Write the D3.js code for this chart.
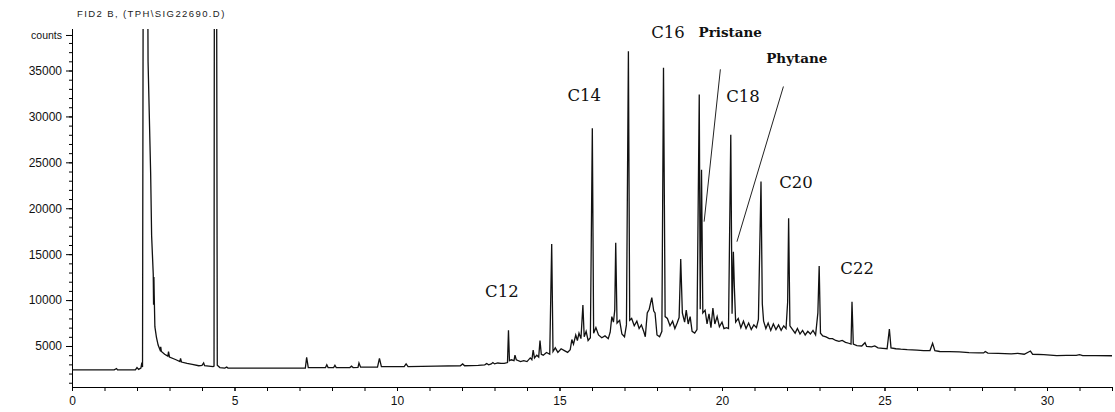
<!DOCTYPE html>
<html>
<head>
<meta charset="utf-8">
<script src="https://cdn.jsdelivr.net/npm/d3@7"></script>
<style>
  body { margin: 0; background: #fff; }
  svg { display: block; }
  .axis path, .axis line { stroke: #000; }
  .tick text { font-family: "Liberation Sans", Arial, sans-serif; font-size: 12px; fill: #111; }
</style>
</head>
<body>
<svg id="chart"></svg>
<script>
// chromatogram trace: [retention time (min), counts]
const signal = [
  [0.0, 2400], [1.3, 2400], [1.37, 2550], [1.4, 2400], [1.95, 2400], [2.0, 2650], [2.05, 2450],
  [2.12, 2600], [2.14, 3000], [2.17, 2700], [2.19, 45000], [2.33, 45000], [2.34, 36000],
  [2.42, 23800], [2.45, 17000], [2.5, 12800], [2.51, 9500], [2.52, 12500], [2.53, 10500],
  [2.55, 7100], [2.6, 5900], [2.65, 5100], [2.71, 4560], [2.73, 4900], [2.75, 4400], [2.85, 4100],
  [2.95, 3900], [2.97, 4400], [3.0, 3800], [3.2, 3500], [3.32, 3300], [3.34, 3650], [3.37, 3250],
  [3.54, 3100], [3.7, 3000], [3.9, 2850], [4.0, 2900], [4.05, 3150], [4.08, 2850], [4.34, 2750],
  [4.37, 2800], [4.38, 45000], [4.45, 45000], [4.47, 2900], [4.55, 2650], [4.7, 2600], [4.76, 2700],
  [4.8, 2600], [7.18, 2600], [7.22, 3770], [7.27, 2650], [7.8, 2650], [7.84, 2950], [7.88, 2650],
  [8.05, 2650], [8.09, 2900], [8.13, 2650], [8.55, 2650], [8.6, 2800], [8.65, 2650], [8.8, 2680],
  [8.83, 3150], [8.88, 2700], [9.4, 2700], [9.46, 3650], [9.52, 2750], [10.22, 2750], [10.28, 3050],
  [10.34, 2750], [11.2, 2800], [11.95, 2850], [12.02, 3050], [12.08, 2850], [12.5, 2900],
  [12.7, 2950], [12.76, 3100], [12.82, 2950], [12.9, 3050], [12.95, 3200], [13.0, 3050],
  [13.1, 3150], [13.2, 3100], [13.3, 3100], [13.4, 3200], [13.43, 6700], [13.46, 3400],
  [13.52, 3500], [13.6, 3400], [13.63, 4000], [13.67, 3500], [13.8, 3300], [13.9, 3400],
  [14.0, 3300], [14.1, 3700], [14.15, 3500], [14.19, 4560], [14.23, 3700], [14.3, 4000],
  [14.36, 3800], [14.4, 5580], [14.44, 4100], [14.5, 4000], [14.6, 4300], [14.7, 4100],
  [14.76, 16100], [14.8, 4400], [14.87, 4800], [14.95, 4300], [15.05, 4700], [15.15, 4500],
  [15.25, 4300], [15.33, 4600], [15.38, 5700], [15.43, 5200], [15.5, 6200], [15.55, 5600],
  [15.6, 6400], [15.66, 5800], [15.72, 9460], [15.76, 6000], [15.82, 6600], [15.88, 5600],
  [15.95, 5900], [16.01, 28700], [16.05, 6400], [16.12, 7000], [16.2, 6200], [16.3, 5900],
  [16.4, 6100], [16.5, 5800], [16.56, 6500], [16.61, 8200], [16.66, 7600], [16.7, 8900],
  [16.73, 16250], [16.77, 7500], [16.85, 7800], [16.92, 6300], [17.0, 6000], [17.06, 7300],
  [17.12, 37100], [17.16, 7800], [17.22, 8000], [17.3, 7200], [17.38, 7700], [17.45, 6900],
  [17.52, 7300], [17.6, 6500], [17.64, 6000], [17.7, 8600], [17.76, 9000], [17.84, 10260],
  [17.9, 8800], [17.94, 8600], [18.0, 6200], [18.08, 6000], [18.15, 6600], [18.2, 35300],
  [18.25, 8200], [18.32, 8000], [18.4, 7200], [18.48, 7700], [18.55, 6900], [18.62, 7500],
  [18.68, 8100], [18.73, 14470], [18.78, 8600], [18.85, 7600], [18.9, 8900], [18.96, 7400],
  [19.02, 8200], [19.08, 6600], [19.16, 6400], [19.23, 6800], [19.3, 32400], [19.33, 9000],
  [19.37, 24200], [19.41, 8600], [19.48, 8900], [19.54, 7400], [19.6, 8500], [19.66, 7000],
  [19.72, 9140], [19.78, 7400], [19.85, 8200], [19.92, 7100], [20.0, 7600], [20.06, 6900],
  [20.14, 7000], [20.2, 6900], [20.27, 28000], [20.31, 8500], [20.35, 15270], [20.38, 11460],
  [20.42, 7600], [20.5, 8000], [20.58, 7000], [20.66, 7700], [20.74, 6900], [20.82, 7500],
  [20.9, 6800], [20.98, 7300], [21.06, 7000], [21.12, 7900], [21.2, 22900], [21.24, 9600],
  [21.28, 7700], [21.35, 6900], [21.42, 7500], [21.5, 6700], [21.58, 7400], [21.66, 6800],
  [21.74, 7300], [21.82, 6700], [21.9, 7200], [21.97, 6900], [22.02, 9800], [22.05, 18900],
  [22.09, 7200], [22.15, 6900], [22.25, 6400], [22.32, 6900], [22.4, 6300], [22.48, 6700],
  [22.56, 6200], [22.64, 6600], [22.72, 6300], [22.8, 6700], [22.88, 6200], [22.95, 8600],
  [22.99, 13700], [23.03, 6400], [23.1, 6100], [23.2, 6000], [23.3, 5800], [23.4, 5800],
  [23.5, 5600], [23.6, 5500], [23.7, 5600], [23.8, 5400], [23.9, 5300], [23.97, 5200],
  [24.0, 9820], [24.04, 5200], [24.15, 5050], [24.3, 5000], [24.4, 5360], [24.45, 4950],
  [24.6, 4900], [24.7, 5000], [24.8, 4800], [24.95, 4750], [25.08, 4700], [25.15, 6850],
  [25.2, 4800], [25.35, 4700], [25.5, 4650], [25.7, 4600], [26.0, 4550], [26.2, 4500],
  [26.4, 4500], [26.48, 5290], [26.55, 4500], [26.7, 4400], [27.0, 4380], [27.3, 4350],
  [27.6, 4280], [27.9, 4250], [28.05, 4250], [28.1, 4400], [28.18, 4230], [28.5, 4200],
  [28.9, 4150], [29.1, 4200], [29.3, 4100], [29.49, 4450], [29.56, 4100], [29.9, 4050],
  [30.1, 4000], [30.3, 3950], [30.6, 3970], [30.9, 3980], [31.0, 4050], [31.1, 3950],
  [31.5, 3950], [32.0, 3940]
];

const xTicks = [0, 5, 10, 15, 20, 25, 30];
const yTicks = [5000, 10000, 15000, 20000, 25000, 30000, 35000];

// peak labels: [text, time, counts, bold]
const peakLabels = [
  ["C12", 12.71, 10370, false],
  ["C14", 15.245, 31680, false],
  ["C16", 17.82, 38510, false],
  ["Pristane", 19.277, 38620, true],
  ["Phytane", 21.36, 35850, true],
  ["C18", 20.13, 31600, false],
  ["C20", 21.76, 22170, false],
  ["C22", 23.64, 12810, false]
];

// leader lines: [time1, counts1, time2, counts2]
const leaders = [
  [19.95, 35130, 19.45, 18540],
  [21.89, 33260, 20.46, 16360]
];

const width = 1115, height = 412;
const margin = { top: 29, right: 3, bottom: 25, left: 72 };

const svg = d3.select("#chart").attr("width", width).attr("height", height);

const x = d3.scaleLinear().domain([0, 32]).range([margin.left, width - margin.right]);
const y = d3.scaleLinear().domain([535, 39520]).range([height - margin.bottom, margin.top]);

svg.append("defs").append("clipPath").attr("id", "plot-clip")
  .append("rect")
  .attr("x", margin.left).attr("y", margin.top)
  .attr("width", width - margin.left - margin.right)
  .attr("height", height - margin.top - margin.bottom);

// title
svg.append("text")
  .attr("x", 77).attr("y", 17)
  .style("font-family", "'Liberation Sans', Arial, sans-serif")
  .style("font-size", "9.5px")
  .style("letter-spacing", "1.4px")
  .attr("fill", "#222")
  .text("FID2 B, (TPH\\SIG22690.D)");

// x axis: minor ticks every minute, labels every 5
const xAxisG = svg.append("g").attr("class", "axis")
  .attr("transform", `translate(0,${height - margin.bottom})`);
xAxisG.call(d3.axisBottom(x).tickValues(d3.range(0, 33, 1)).tickSize(4).tickFormat(""));
xAxisG.append("g")
  .call(d3.axisBottom(x).tickValues(xTicks).tickSize(4).tickPadding(5).tickFormat(d3.format("d")))
  .call(g => g.select(".domain").remove());
xAxisG.select(".domain").attr("d", `M${margin.left},0.5H${width - margin.right}`);

// y axis: minor ticks every 1000
const yAxisG = svg.append("g").attr("class", "axis")
  .attr("transform", `translate(${margin.left},0)`);
yAxisG.call(d3.axisLeft(y).tickValues(d3.range(1000, 39000, 1000)).tickSize(3).tickFormat(""));
yAxisG.append("g")
  .call(d3.axisLeft(y).tickValues(yTicks.concat([38870])).tickSize(6).tickPadding(4)
    .tickFormat(d => d === 38870 ? "counts" : d))
  .call(g => g.select(".domain").remove());
yAxisG.select(".domain").attr("d", `M0.5,${margin.top}V${height - margin.bottom}`);
yAxisG.selectAll(".tick text").filter(d => d === 38870).style("font-size", "10.5px");

// trace
const line = d3.line().x(d => x(d[0])).y(d => y(d[1]));
svg.append("path")
  .datum(signal)
  .attr("clip-path", "url(#plot-clip)")
  .attr("fill", "none")
  .attr("stroke", "#111")
  .attr("stroke-width", 1.3)
  .attr("stroke-linejoin", "miter")
  .attr("d", line);

// leader lines
svg.selectAll(".leader").data(leaders).enter().append("line")
  .attr("class", "leader")
  .attr("x1", d => x(d[0])).attr("y1", d => y(d[1]))
  .attr("x2", d => x(d[2])).attr("y2", d => y(d[3]))
  .attr("stroke", "#222").attr("stroke-width", 1);

// peak labels
svg.selectAll(".peak-label").data(peakLabels).enter().append("text")
  .attr("class", "peak-label")
  .attr("x", d => x(d[1])).attr("y", d => y(d[2]))
  .style("font-family", "'DejaVu Serif', 'Liberation Serif', serif")
  .style("font-size", d => d[3] ? "13.5px" : "16.5px")
  .style("font-weight", d => d[3] ? "bold" : "normal")
  .attr("fill", "#111")
  .text(d => d[0]);
</script>
</body>
</html>
